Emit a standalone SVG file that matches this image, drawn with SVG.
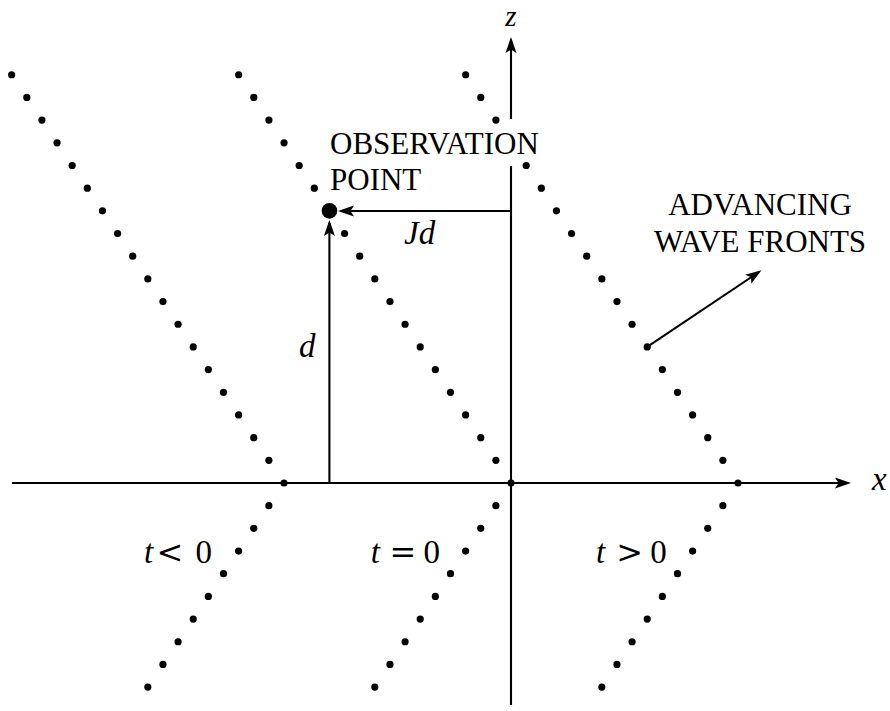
<svg xmlns="http://www.w3.org/2000/svg" width="890" height="711" viewBox="0 0 890 711">
<style>
.dot{fill:#000}
.ax{stroke:#000;stroke-width:2.1;fill:none}
.lbl{font-family:"Liberation Serif","Times New Roman",serif;font-size:31px;fill:#000}
.m{font-family:"Liberation Serif","Times New Roman",serif;font-size:33px;font-style:italic;fill:#000}
.n{font-family:"Liberation Serif","Times New Roman",serif;font-size:33px;fill:#000;text-anchor:middle}
.r{font-family:"DejaVu Serif","Liberation Serif",serif;font-size:32px;fill:#000;text-anchor:middle}
</style>
<defs>
<marker id="ah" viewBox="-17 -7 20 14" markerWidth="20" markerHeight="14" refX="-3" refY="0" orient="auto" markerUnits="userSpaceOnUse">
<path d="M0,0 L-16,-5.5 L-12.5,0 L-16,5.5 Z" fill="#000"/>
</marker>
</defs>
<rect width="890" height="711" fill="#fff"/>

<g id="connectors">
<line id="x-axis" class="ax" x1="12" y1="483" x2="848" y2="483" marker-end="url(#ah)"/>
<line id="z-axis-low" class="ax" x1="511" y1="705" x2="511" y2="166"/>
<line id="z-axis-high" class="ax" x1="511" y1="119" x2="511" y2="40" marker-end="url(#ah)"/>
<line id="jd-arrow" class="ax" x1="511" y1="211" x2="341" y2="211" marker-end="url(#ah)"/>
<line id="d-arrow" class="ax" x1="329.4" y1="483" x2="329.4" y2="223" marker-end="url(#ah)"/>
<line id="wave-arrow" class="ax" x1="647.2" y1="346.9" x2="759" y2="272" marker-end="url(#ah)"/>
</g>

<g id="front-t-neg" class="dot">
<circle cx="11.66" cy="74.76" r="3.6"/><circle cx="26.79" cy="97.44" r="3.6"/><circle cx="41.92" cy="120.12" r="3.6"/><circle cx="57.05" cy="142.8" r="3.6"/><circle cx="72.18" cy="165.48" r="3.6"/><circle cx="87.31" cy="188.16" r="3.6"/><circle cx="102.44" cy="210.84" r="3.6"/><circle cx="117.57" cy="233.52" r="3.6"/><circle cx="132.7" cy="256.2" r="3.6"/><circle cx="147.83" cy="278.88" r="3.6"/><circle cx="162.96" cy="301.56" r="3.6"/><circle cx="178.09" cy="324.24" r="3.6"/><circle cx="193.22" cy="346.92" r="3.6"/><circle cx="208.35" cy="369.6" r="3.6"/><circle cx="223.48" cy="392.28" r="3.6"/><circle cx="238.61" cy="414.96" r="3.6"/><circle cx="253.74" cy="437.64" r="3.6"/><circle cx="268.87" cy="460.32" r="3.6"/>
<circle cx="284" cy="483" r="3.6"/>
<circle cx="268.87" cy="505.68" r="3.6"/><circle cx="253.74" cy="528.36" r="3.6"/><circle cx="238.61" cy="551.04" r="3.6"/><circle cx="223.48" cy="573.72" r="3.6"/><circle cx="208.35" cy="596.4" r="3.6"/><circle cx="193.22" cy="619.08" r="3.6"/><circle cx="178.09" cy="641.76" r="3.6"/><circle cx="162.96" cy="664.44" r="3.6"/><circle cx="147.83" cy="687.12" r="3.6"/>
</g>

<g id="front-t-zero" class="dot">
<circle cx="238.66" cy="74.76" r="3.6"/><circle cx="253.79" cy="97.44" r="3.6"/><circle cx="268.92" cy="120.12" r="3.6"/><circle cx="284.05" cy="142.8" r="3.6"/><circle cx="299.18" cy="165.48" r="3.6"/><circle cx="314.31" cy="188.16" r="3.6"/><circle cx="344.57" cy="233.52" r="3.6"/><circle cx="359.7" cy="256.2" r="3.6"/><circle cx="374.83" cy="278.88" r="3.6"/><circle cx="389.96" cy="301.56" r="3.6"/><circle cx="405.09" cy="324.24" r="3.6"/><circle cx="420.22" cy="346.92" r="3.6"/><circle cx="435.35" cy="369.6" r="3.6"/><circle cx="450.48" cy="392.28" r="3.6"/><circle cx="465.61" cy="414.96" r="3.6"/><circle cx="480.74" cy="437.64" r="3.6"/><circle cx="495.87" cy="460.32" r="3.6"/>
<circle cx="511" cy="483" r="3.6"/>
<circle cx="495.87" cy="505.68" r="3.6"/><circle cx="480.74" cy="528.36" r="3.6"/><circle cx="465.61" cy="551.04" r="3.6"/><circle cx="450.48" cy="573.72" r="3.6"/><circle cx="435.35" cy="596.4" r="3.6"/><circle cx="420.22" cy="619.08" r="3.6"/><circle cx="405.09" cy="641.76" r="3.6"/><circle cx="389.96" cy="664.44" r="3.6"/><circle cx="374.83" cy="687.12" r="3.6"/>
</g>

<g id="front-t-pos" class="dot">
<circle cx="465.66" cy="74.76" r="3.6"/><circle cx="480.79" cy="97.44" r="3.6"/><circle cx="495.92" cy="120.12" r="3.6"/><circle cx="526.18" cy="165.48" r="3.6"/><circle cx="541.31" cy="188.16" r="3.6"/><circle cx="556.44" cy="210.84" r="3.6"/><circle cx="571.57" cy="233.52" r="3.6"/><circle cx="586.7" cy="256.2" r="3.6"/><circle cx="601.83" cy="278.88" r="3.6"/><circle cx="616.96" cy="301.56" r="3.6"/><circle cx="632.09" cy="324.24" r="3.6"/><circle cx="647.22" cy="346.92" r="3.6"/><circle cx="662.35" cy="369.6" r="3.6"/><circle cx="677.48" cy="392.28" r="3.6"/><circle cx="692.61" cy="414.96" r="3.6"/><circle cx="707.74" cy="437.64" r="3.6"/><circle cx="722.87" cy="460.32" r="3.6"/>
<circle cx="738" cy="483" r="3.6"/>
<circle cx="722.87" cy="505.68" r="3.6"/><circle cx="707.74" cy="528.36" r="3.6"/><circle cx="692.61" cy="551.04" r="3.6"/><circle cx="677.48" cy="573.72" r="3.6"/><circle cx="662.35" cy="596.4" r="3.6"/><circle cx="647.22" cy="619.08" r="3.6"/><circle cx="632.09" cy="641.76" r="3.6"/><circle cx="616.96" cy="664.44" r="3.6"/><circle cx="601.83" cy="687.12" r="3.6"/>
</g>

<g id="observation-point">
<circle cx="329.44" cy="210.84" r="7.8" fill="#000"/>
<text class="lbl" x="330" y="154">OBSERVATION</text>
<text class="lbl" x="330" y="190">POINT</text>
</g>

<g id="wave-fronts-label">
<text class="lbl" x="760" y="215" text-anchor="middle">ADVANCING</text>
<text class="lbl" x="760" y="251.5" text-anchor="middle">WAVE FRONTS</text>
</g>

<g id="axis-labels">
<text class="m" x="511" y="26" text-anchor="middle" style="font-size:29px">z</text>
<text class="m" x="872" y="490">x</text>
</g>

<g id="distance-labels">
<text class="m" x="299" y="357">d</text>
<text class="m" x="404" y="244">Jd</text>
</g>

<g id="time-labels">
<text class="m" x="144" y="563">t</text><text class="r" x="170" y="563">&lt;</text><text class="n" x="203.8" y="563">0</text>
<text class="m" x="370.7" y="563">t</text><text class="r" x="402.8" y="563">=</text><text class="n" x="431.7" y="563">0</text>
<text class="m" x="596" y="563">t</text><text class="r" x="629.7" y="563">&gt;</text><text class="n" x="658.5" y="563">0</text>
</g>
</svg>
